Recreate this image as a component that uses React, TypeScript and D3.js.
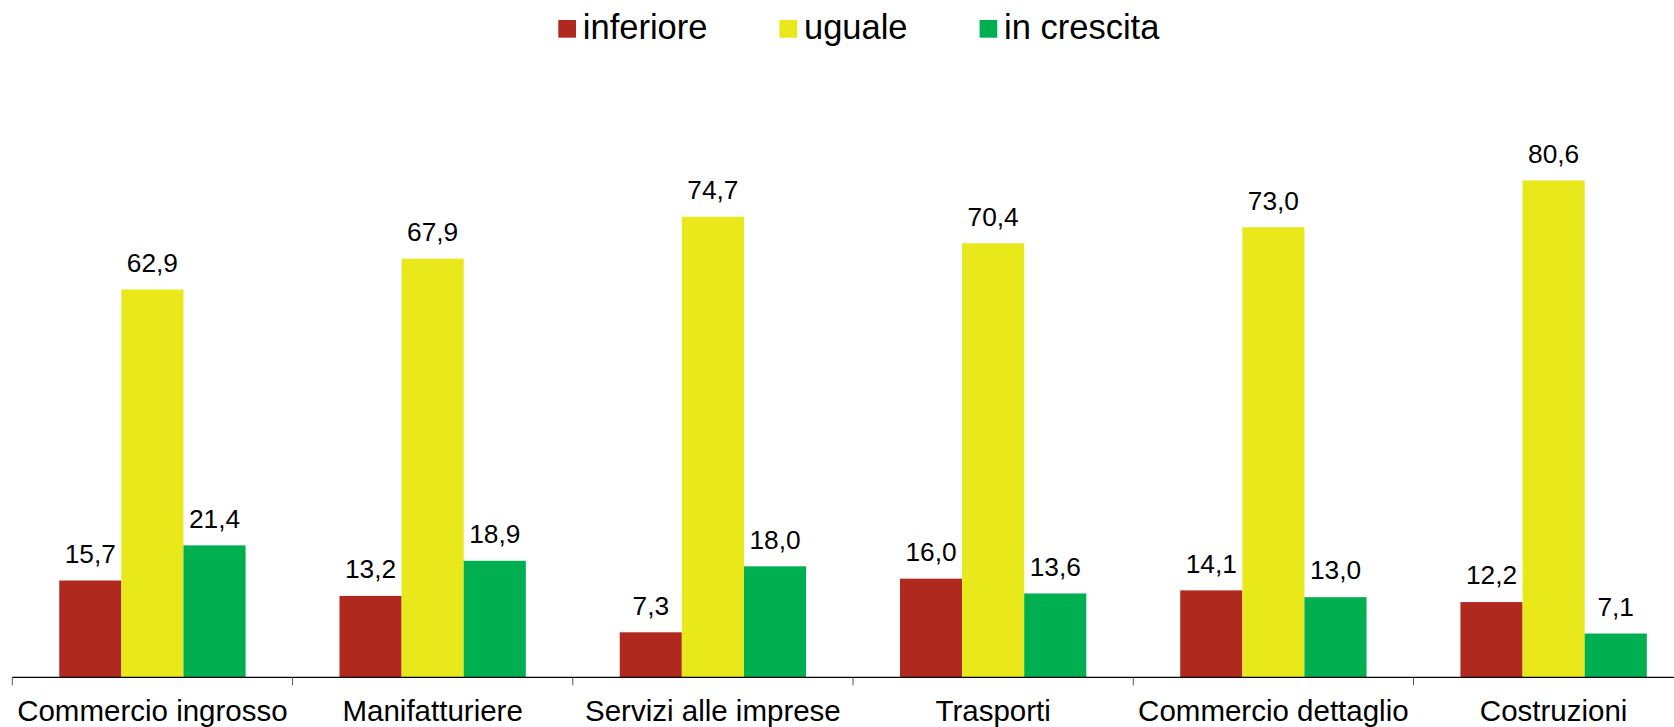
import React, { useEffect, useRef } from "react";
import * as d3 from "d3";

const categories = [
  "Commercio ingrosso",
  "Manifatturiere",
  "Servizi alle imprese",
  "Trasporti",
  "Commercio dettaglio",
  "Costruzioni",
];
const seriesNames = ["inferiore", "uguale", "in crescita"];
const inferiore = [15.7, 13.2, 7.3, 16.0, 14.1, 12.2];
const uguale = [62.9, 67.9, 74.7, 70.4, 73.0, 80.6];
const inCrescita = [21.4, 18.9, 18.0, 13.6, 13.0, 7.1];
const seriesValues = [inferiore, uguale, inCrescita];
const colors = ["#B0291F", "#E8E81A", "#00B050"];

const W = 1674;
const H = 727;
const FONT = "'Liberation Sans', Arial, sans-serif";

export default function App() {
  const ref = useRef<SVGSVGElement>(null);

  useEffect(() => {
    const svg = d3.select(ref.current);
    svg.selectAll("*").remove();

    const x0Start = 12.3;
    const step = 280.24;
    const baseY = 677.3;

    const x0 = d3
      .scaleBand<string>()
      .domain(categories)
      .range([x0Start, x0Start + step * categories.length])
      .paddingInner(0)
      .paddingOuter(0);
    const x1 = d3
      .scaleBand<string>()
      .domain(seriesNames)
      .range([0, x0.bandwidth()])
      .paddingInner(0)
      .paddingOuter(0.756);
    const y = d3.scaleLinear().domain([0, 90]).range([baseY, baseY - 90 * 6.165]);

    const fmt = (v: number) => d3.format(".1f")(v).replace(".", ",");

    // bars
    const g = svg.append("g");
    categories.forEach((cat, ci) => {
      seriesNames.forEach((s, si) => {
        const v = seriesValues[si][ci];
        const bx = (x0(cat) as number) + (x1(s) as number);
        g.append("rect")
          .attr("x", bx)
          .attr("y", y(v))
          .attr("width", x1.bandwidth())
          .attr("height", baseY - y(v))
          .attr("fill", colors[si]);
        g.append("text")
          .attr("x", bx + x1.bandwidth() / 2)
          .attr("y", y(v) - 17.7)
          .attr("text-anchor", "middle")
          .attr("font-family", FONT)
          .attr("font-size", 26.3)
          .attr("fill", "#000")
          .text(fmt(v));
      });
    });

    // axis
    svg
      .append("line")
      .attr("x1", x0Start)
      .attr("x2", W)
      .attr("y1", baseY)
      .attr("y2", baseY)
      .attr("stroke", "#000")
      .attr("stroke-width", 1.3);
    categories.forEach((cat) => {
      const tx = x0(cat) as number;
      svg
        .append("line")
        .attr("x1", tx)
        .attr("x2", tx)
        .attr("y1", baseY)
        .attr("y2", baseY + 8)
        .attr("stroke", "#555")
        .attr("stroke-width", 1);
      svg
        .append("text")
        .attr("x", tx + x0.bandwidth() / 2)
        .attr("y", 721)
        .attr("text-anchor", "middle")
        .attr("font-family", FONT)
        .attr("font-size", 29.5)
        .attr("fill", "#000")
        .text(cat);
    });

    // legend
    const lg = svg.append("g");
    let lx = 558.3;
    seriesNames.forEach((s, si) => {
      lg.append("rect")
        .attr("x", lx)
        .attr("y", 20)
        .attr("width", 17.7)
        .attr("height", 17.7)
        .attr("fill", colors[si]);
      const t = lg
        .append("text")
        .attr("x", lx + 24.5)
        .attr("y", 39.3)
        .attr("font-family", FONT)
        .attr("font-size", 34.5)
        .attr("fill", "#000")
        .text(s);
      const tw = (t.node() as SVGTextElement).getComputedTextLength();
      lx = lx + 24.5 + tw + 72;
    });
  }, []);

  return (
    <svg
      ref={ref}
      width={W}
      height={H}
      style={{ position: "absolute", left: 0, top: 0, background: "#fff" }}
    />
  );
}
